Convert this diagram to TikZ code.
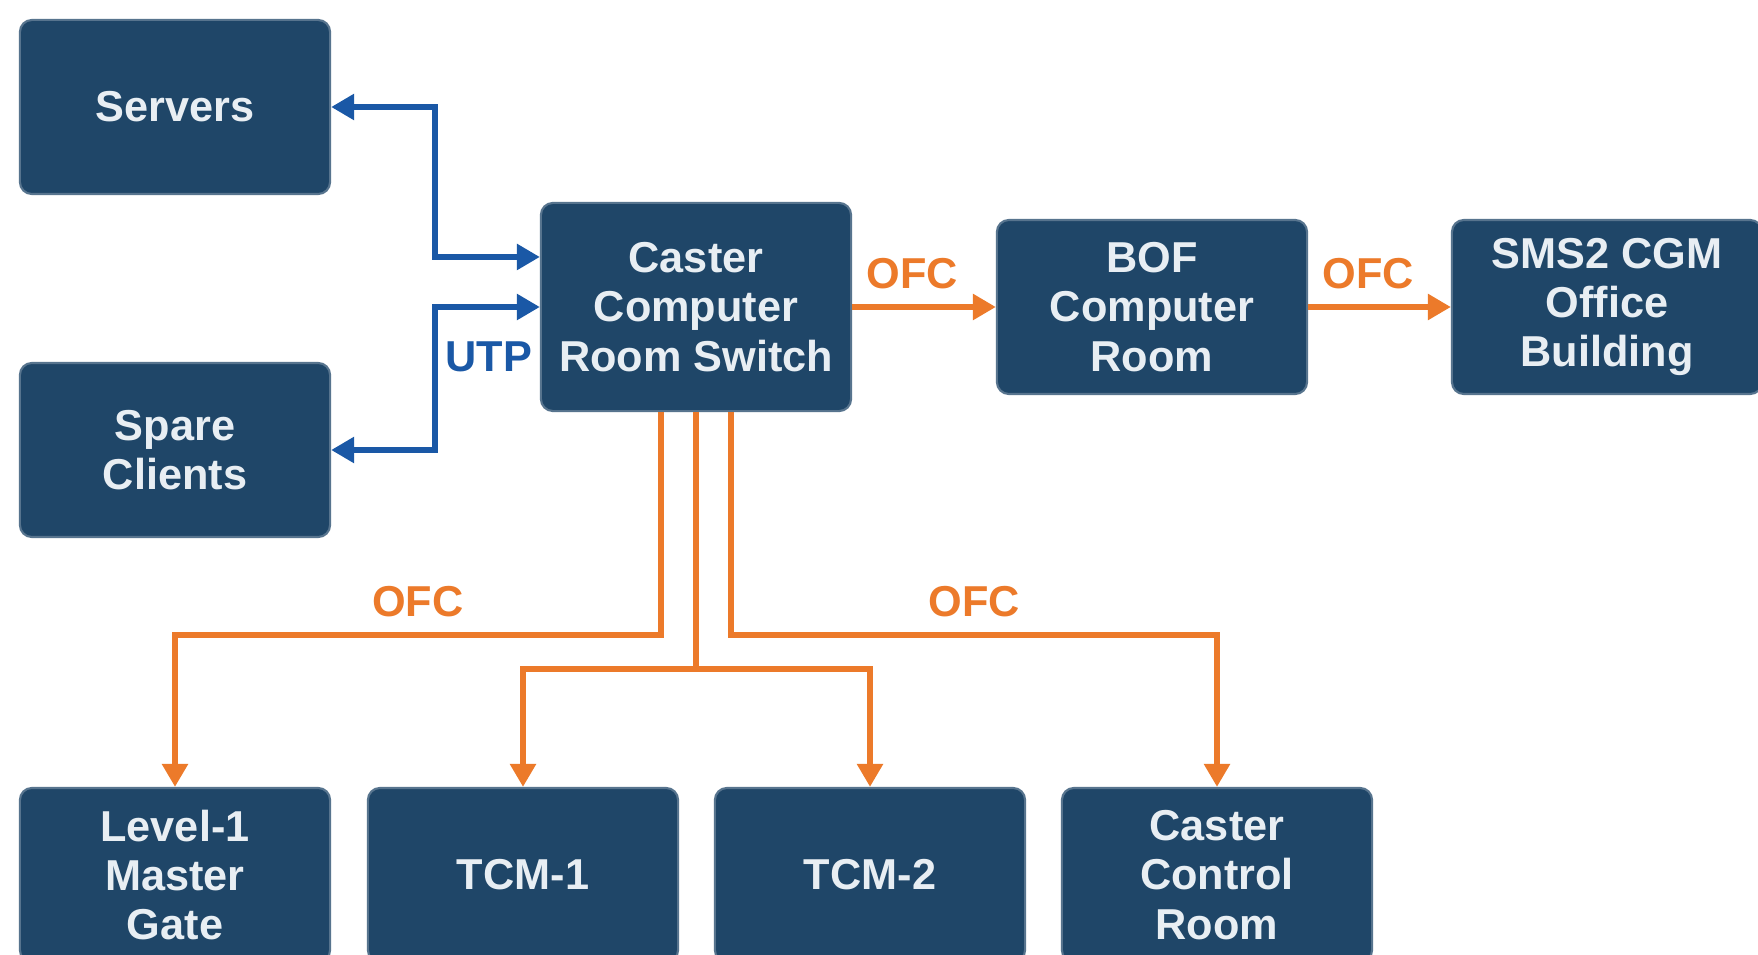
\documentclass[tikz,border=0pt]{standalone}
\usepackage{fontspec}
\setmainfont{Liberation Sans}
\usetikzlibrary{arrows.meta,positioning}
\definecolor{boxblue}{RGB}{31,70,104}
\definecolor{linkblue}{RGB}{26,88,166}
\definecolor{fiber}{RGB}{236,122,42}
\definecolor{boxtext}{RGB}{232,238,243}
\begin{document}
\begin{tikzpicture}[x=0.01cm,y=-0.01cm,
	box/.style={draw=boxblue!75!white,fill=boxblue,rounded corners=0.12cm,line width=0.6pt,text=boxtext,align=center,font=\bfseries\fontsize{12.3}{14}\selectfont,minimum width=3.1cm,minimum height=1.74cm,inner sep=0pt},
	utp/.style={draw=linkblue,line width=1.6pt,{Triangle[length=0.23cm,width=0.25cm]}-{Triangle[length=0.23cm,width=0.25cm]}},
	ofc/.style={draw=fiber,line width=1.6pt,-{Triangle[length=0.23cm,width=0.25cm]}},
	lbl/.style={font=\bfseries\fontsize{12.3}{14}\selectfont,inner sep=0pt}]
	\useasboundingbox[fill=white] (0,0) rectangle (1758,955);
	% boxes
	\node[box] (servers) at (175,107) {Servers};
	\node[box] (spare) at (175,450) {Spare\\Clients};
	\node[box,minimum height=2.08cm] (switch) at (696,307) {Caster\\Computer\\Room Switch};
	\node[box] (bof) at (1152,307) {BOF\\Computer\\Room};
	\node[box] (sms) at (1607,307) {SMS2 CGM\\Office\\Building};
	\node[box] (lvl) at (175,875) {Level-1\\Master\\Gate};
	\node[box] (tcm1) at (523,875) {TCM-1};
	\node[box] (tcm2) at (870,875) {TCM-2};
	\node[box] (ccr) at (1217,875) {Caster\\Control\\Room};
	% helper points
	\coordinate (bus) at (435,0);
	\coordinate (rowA) at (0,635);
	\coordinate (rowB) at (0,669);
	\coordinate (swtop) at ([yshift=0.5cm]switch.west);
	% UTP links
	\draw[utp] (servers.east) -| (bus |- swtop) -- (swtop);
	\draw[utp] (spare.east) -| (bus |- switch.west) -- (switch.west);
	\node[lbl,text=linkblue,anchor=east] (utp) at ([xshift=-0.07cm,yshift=-0.5cm]switch.west) {UTP};
	% fibre links
	\draw[ofc] (switch) -- node[pos=0.42,lbl,text=fiber,above=0.15cm] (ofc1) {OFC} (bof);
	\draw[ofc] (bof) -- node[pos=0.42,lbl,text=fiber,above=0.15cm] (ofc2) {OFC} (sms);
	\draw[ofc] ([xshift=-0.35cm]switch.south) |- node[pos=0.75,lbl,text=fiber,above=0.15cm] (ofc3) {OFC} (lvl |- rowA) -- (lvl.north);
	\draw[ofc] ([xshift=0.35cm]switch.south) |- node[pos=0.75,lbl,text=fiber,above=0.15cm] (ofc4) {OFC} (ccr |- rowA) -- (ccr.north);
	\draw[ofc] (switch.south) |- (tcm1 |- rowB) -- (tcm1.north);
	\draw[ofc] (switch.south) |- (tcm2 |- rowB) -- (tcm2.north);
\end{tikzpicture}
\end{document}
